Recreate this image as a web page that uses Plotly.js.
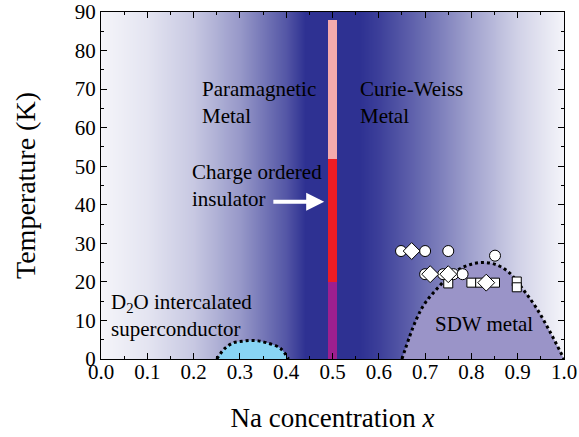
<!DOCTYPE html>
<html>
<head>
<meta charset="utf-8">
<script src="https://cdn.plot.ly/plotly-3.0.1.min.js"></script>
<style>html,body{margin:0;padding:0;background:#fff;}#chart{width:579px;height:437px;}</style>
</head>
<body>
<div id="chart"></div>
<script>
// Background gradient stops (Na concentration) and darkness level
var bgX = [0, 0.1, 0.2, 0.3, 0.4, 0.44, 0.56, 0.6, 0.7, 0.8, 0.9, 1.0];
var bgLevel = [0.05, 0.13, 0.27, 0.5, 0.82, 1, 1, 0.93, 0.7, 0.45, 0.22, 0.05];

// Superconducting dome (D2O intercalated)
var scX = [0.25, 0.268, 0.286, 0.305, 0.322, 0.34, 0.358, 0.387, 0.405];
var scT = [0, 2.8, 4.2, 4.6, 4.8, 4.7, 4.2, 2.8, 0];

// SDW metal dome
var sdwX = [0.65, 0.68, 0.70, 0.73, 0.76, 0.79, 0.82, 0.85, 0.88, 0.91, 0.94, 0.97, 1.0];
var sdwT = [0, 10, 14.5, 18.8, 22.3, 24.2, 25, 24.6, 22.6, 18.3, 13.3, 7, 0];

// Charge-ordered bar at x = 0.5 (stacked segments)
var barX = [0.5];
var barPurple = [20];
var barRed = [32];
var barPink = [36];

// Experimental points
var circX = [0.648, 0.700, 0.750, 0.851, 0.700, 0.739, 0.761, 0.781];
var circT = [28, 28, 28, 26.8, 22, 22, 22, 22];
var diaX = [0.671, 0.711, 0.750, 0.832];
var diaT = [28, 22, 22, 19.8];
var sqX = [0.750, 0.800, 0.819, 0.851, 0.898, 0.898];
var sqT = [19.6, 19.8, 19.8, 19.8, 20.1, 18.6];

var FONT = 'Liberation Serif';
var BLUE = '#2e3192';

var traces = [
  {type: 'heatmap', x: bgX, y: [-10, 100], z: [bgLevel, bgLevel], zmin: 0, zmax: 1,
   zsmooth: 'best', colorscale: [[0, '#ffffff'], [1, BLUE]], showscale: false, hoverinfo: 'skip'},
  {type: 'scatter', x: scX, y: scT, mode: 'lines', fill: 'tozeroy', fillcolor: '#88d4f4',
   line: {color: '#000', width: 3, dash: 'dot', shape: 'spline'}, hoverinfo: 'skip'},
  {type: 'scatter', x: sdwX, y: sdwT, mode: 'lines', fill: 'tozeroy', fillcolor: '#9a94c8',
   line: {color: '#000', width: 3, dash: 'dot', shape: 'spline'}, hoverinfo: 'skip'},
  {type: 'bar', x: barX, y: barPurple, width: 0.021, marker: {color: '#9d1f8f', line: {width: 0}}},
  {type: 'bar', x: barX, y: barRed, width: 0.021, marker: {color: '#ed1c24', line: {width: 0}}},
  {type: 'bar', x: barX, y: barPink, width: 0.021, marker: {color: '#f5aaad', line: {width: 0}}},
  {type: 'scatter', x: sqX, y: sqT, mode: 'markers',
   marker: {symbol: 'square', size: 9, color: '#fff', line: {color: '#000', width: 1}}},
  {type: 'scatter', x: circX, y: circT, mode: 'markers',
   marker: {symbol: 'circle', size: 11, color: '#fff', line: {color: '#000', width: 1}}},
  {type: 'scatter', x: diaX, y: diaT, mode: 'markers',
   marker: {symbol: 'diamond', size: 13, color: '#fff', line: {color: '#000', width: 1}}}
];

var annFont = {family: FONT, size: 21, color: '#000'};
var layout = {
  width: 579, height: 437,
  margin: {l: 101, r: 15, t: 12, b: 78},
  paper_bgcolor: '#fff', plot_bgcolor: '#fff',
  showlegend: false,
  barmode: 'stack',
  font: {family: FONT, color: '#000'},
  xaxis: {
    range: [0, 1], dtick: 0.1, tick0: 0, tickformat: '.1f',
    ticks: 'inside', ticklen: 6, tickwidth: 1, tickcolor: '#000',
    minor: {dtick: 0.05, ticks: 'inside', ticklen: 3, tickcolor: '#000'},
    showline: true, linecolor: '#000', linewidth: 1, mirror: 'ticks',
    showgrid: false, zeroline: false,
    ticklabelstandoff: -6,
    tickfont: {family: FONT, size: 21, color: '#000'},
    title: {text: 'Na concentration <i>x</i>', font: {family: FONT, size: 27, color: '#000'}, standoff: 24}
  },
  yaxis: {
    range: [0, 90], dtick: 10, tick0: 0,
    ticks: 'inside', ticklen: 6, tickwidth: 1, tickcolor: '#000',
    minor: {dtick: 5, ticks: 'inside', ticklen: 3, tickcolor: '#000'},
    showline: true, linecolor: '#000', linewidth: 1, mirror: 'ticks',
    showgrid: false, zeroline: false,
    tickfont: {family: FONT, size: 21, color: '#000'},
    title: {text: 'Temperature (K)', font: {family: FONT, size: 28, color: '#000'}, standoff: 30}
  },
  annotations: [
    {x: 0.214, y: 66.5, xref: 'x', yref: 'y', text: 'Paramagnetic<br>Metal', showarrow: false,
     xanchor: 'left', yanchor: 'middle', align: 'left', font: annFont},
    {x: 0.556, y: 66.5, xref: 'x', yref: 'y', text: 'Curie-Weiss<br>Metal', showarrow: false,
     xanchor: 'left', yanchor: 'middle', align: 'left', font: annFont},
    {x: 0.192, y: 45, xref: 'x', yref: 'y', text: 'Charge ordered<br>insulator', showarrow: false,
     xanchor: 'left', yanchor: 'middle', align: 'left', font: annFont},
    {x: 0.018, y: 11.2, xref: 'x', yref: 'y', text: 'D<sub>2</sub>O intercalated<br>superconductor', showarrow: false,
     xanchor: 'left', yanchor: 'middle', align: 'left', font: annFont},
    {x: 0.827, y: 9, xref: 'x', yref: 'y', text: 'SDW metal', showarrow: false,
     xanchor: 'center', yanchor: 'middle', font: annFont},
    {x: 0.482, y: 40.8, xref: 'x', yref: 'y', ax: 0.369, ay: 40.8, axref: 'x', ayref: 'y',
     text: '', showarrow: true, arrowhead: 2, arrowsize: 0.9, arrowwidth: 4, arrowcolor: '#fff'}
  ]
};

Plotly.newPlot('chart', traces, layout, {displayModeBar: false, staticPlot: true});
</script>
</body>
</html>
